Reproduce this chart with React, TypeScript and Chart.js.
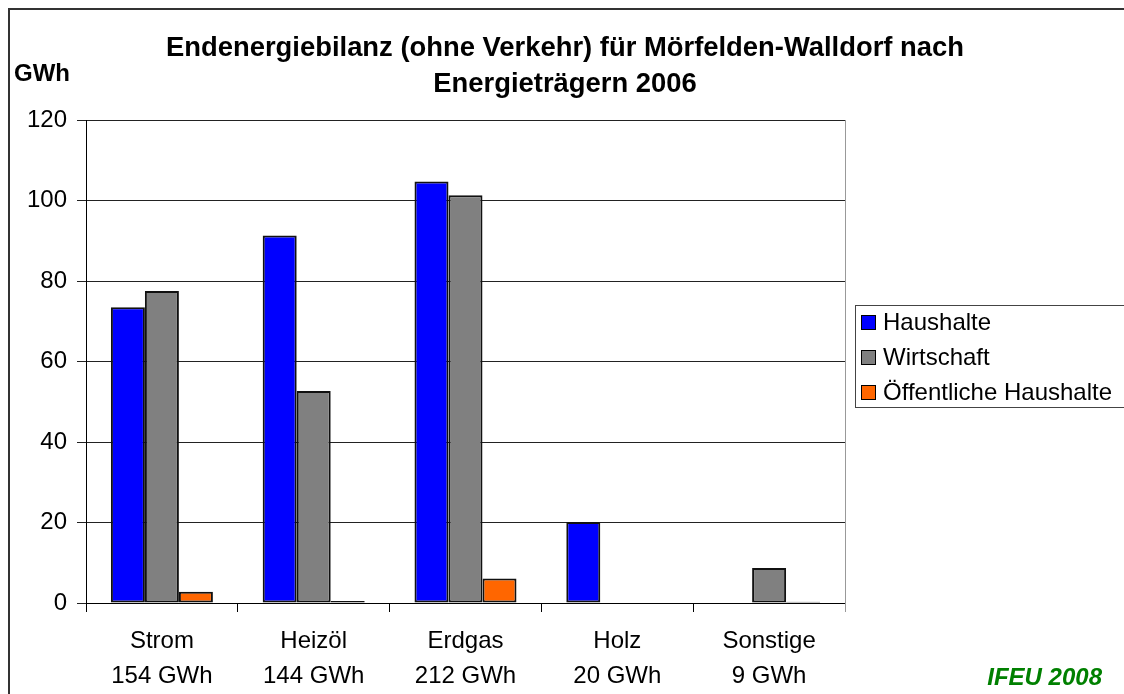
import React, { useEffect, useRef } from "react";
import { Chart, registerables } from "chart.js";

Chart.register(...registerables);

const categories = ["Strom", "Heizöl", "Erdgas", "Holz", "Sonstige"];
const totals = ["154 GWh", "144 GWh", "212 GWh", "20 GWh", "9 GWh"];
const haushalte = [73.5, 91.3, 104.7, 20.1, 0];
const wirtschaft = [77.5, 52.7, 101.3, 0, 8.7];
const oeffentlich = [2.8, 0.5, 6.1, 0, 0.3];
const seriesNames = ["Haushalte", "Wirtschaft", "Öffentliche Haushalte"];
const seriesColors = ["#0000FF", "#808080", "#FF6600"];
const yTicks = [0, 20, 40, 60, 80, 100, 120];
const titleLines = [
  "Endenergiebilanz (ohne Verkehr) für Mörfelden-Walldorf nach",
  "Energieträgern 2006",
];
const unitLabel = "GWh";
const sourceLabel = "IFEU 2008";

const FONT = "'Liberation Sans', Arial, sans-serif";

const decorPlugin = {
  id: "decor",
  afterDraw(chart: any) {
    const ctx = chart.ctx;
    const area = chart.chartArea;
    ctx.save();
    // outer frame
    ctx.strokeStyle = "#333";
    ctx.lineWidth = 2;
    ctx.strokeRect(9, 9, 2000, 2000);
    // right border of plot area
    ctx.strokeStyle = "#999";
    ctx.lineWidth = 1;
    ctx.beginPath();
    ctx.moveTo(Math.round(area.right) + 0.5, area.top);
    ctx.lineTo(Math.round(area.right) + 0.5, area.bottom + 9);
    ctx.stroke();
    // title
    ctx.fillStyle = "#000";
    ctx.font = `bold 27.4px ${FONT}`;
    ctx.textAlign = "center";
    ctx.textBaseline = "middle";
    ctx.fillText(titleLines[0], 565, 48);
    ctx.fillText(titleLines[1], 565, 84);
    // unit
    ctx.font = `bold 24px ${FONT}`;
    ctx.textAlign = "left";
    ctx.fillText(unitLabel, 14, 74);
    // source
    ctx.fillStyle = "#008000";
    ctx.font = `italic bold 24px ${FONT}`;
    ctx.textAlign = "right";
    ctx.fillText(sourceLabel, 1102, 678);
    // legend
    ctx.strokeStyle = "#444";
    ctx.lineWidth = 1;
    ctx.strokeRect(855.5, 305.5, 400, 102);
    ctx.font = `24px ${FONT}`;
    ctx.textAlign = "left";
    chart.data.datasets.forEach((ds: any, i: number) => {
      const cy = 322 + i * 35;
      ctx.fillStyle = ds.backgroundColor;
      ctx.fillRect(861, cy - 7, 15, 15);
      ctx.strokeStyle = "#000";
      ctx.strokeRect(861.5, cy - 6.5, 14, 14);
      ctx.fillStyle = "#000";
      ctx.fillText(ds.label, 883, cy + 1);
    });
    ctx.restore();
  },
};

export default function App() {
  const ref = useRef<HTMLCanvasElement>(null);
  useEffect(() => {
    const seriesData = [haushalte, wirtschaft, oeffentlich];
    const chart = new Chart(ref.current!, {
      type: "bar",
      data: {
        labels: categories.map((c, i) => [c, totals[i]]),
        datasets: seriesNames.map((name, i) => ({
          label: name,
          data: seriesData[i],
          backgroundColor: seriesColors[i],
          borderColor: "#111",
          borderWidth: 2,
          borderSkipped: false,
          barPercentage: 1,
          categoryPercentage: 0.672,
        })),
      },
      options: {
        animation: false,
        responsive: false,
        maintainAspectRatio: false,
        layout: { padding: { left: 0, top: 120, right: 279, bottom: 0 } },
        plugins: {
          legend: { display: false },
          title: { display: false },
          tooltip: { enabled: false },
        },
        scales: {
          x: {
            grid: {
              offset: true,
              drawOnChartArea: false,
              drawTicks: true,
              tickLength: 9,
              color: "#000",
            },
            border: { display: true, color: "#000" },
            ticks: {
              color: "#000",
              font: { family: FONT, size: 24, lineHeight: 35 / 24 },
              padding: 12,
              maxRotation: 0,
              autoSkip: false,
            },
            afterFit(scale: any) {
              scale.height = 91;
            },
          },
          y: {
            min: 0,
            max: 120,
            afterBuildTicks(scale: any) {
              scale.ticks = yTicks.map((v) => ({ value: v }));
            },
            grid: {
              color: "#222",
              tickLength: 9,
              drawTicks: true,
            },
            border: { display: true, color: "#000" },
            ticks: {
              color: "#000",
              font: { family: FONT, size: 24 },
              padding: 10,
            },
            afterFit(scale: any) {
              scale.width = 86;
            },
          },
        },
      },
      plugins: [decorPlugin],
    });
    return () => chart.destroy();
  }, []);
  return (
    <div style={{ position: "absolute", left: 0, top: 0, width: 1124, height: 694, background: "#fff" }}>
      <canvas ref={ref} width={1124} height={694} style={{ display: "block" }} />
    </div>
  );
}
